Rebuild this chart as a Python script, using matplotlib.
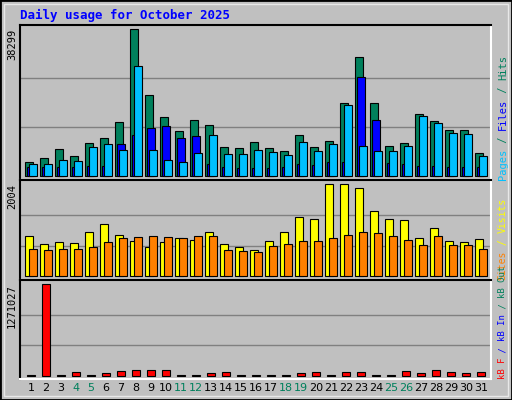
import matplotlib
matplotlib.use("Agg")
import matplotlib.pyplot as plt
from matplotlib.patches import Rectangle

days = list(range(1, 32))
weekend = [4, 5, 11, 12, 18, 19, 25, 26]

hits = [3650, 4690, 7030, 5210, 8600, 9900, 14070, 38299, 21100, 15370,
        11720, 14590, 13290, 7470, 7210, 8770, 7210, 6430, 10590, 7470,
        9030, 19020, 30920, 19020, 7730, 8510, 16240, 14240, 11900, 11900, 6000]
files = [2300, 2300, 2300, 2300, 2600, 2600, 8340, 10600, 12500, 13030,
         9900, 10420, 3000, 2300, 2000, 2000, 2000, 2300, 3100, 2900,
         3600, 3600, 25700, 14590, 3400, 3100, 2600, 2600, 2300, 2300, 2300]
pages = [3130, 3130, 4170, 3910, 7560, 8340, 6780, 28750, 6780, 4170,
         3650, 5990, 10680, 5730, 5730, 6780, 6250, 5470, 8860, 6510,
         8340, 18500, 7820, 6510, 6510, 7820, 15640, 13810, 11200, 10940, 5210]
visits = [874, 699, 743, 721, 955, 1129, 889, 779, 649, 743,
          831, 787, 955, 699, 634, 568, 765, 955, 1283, 1239,
          2004, 2004, 1924, 1414, 1239, 1217, 845, 1042, 765, 743, 809]
sites = [590, 568, 590, 590, 634, 743, 831, 852, 874, 852,
         831, 874, 874, 568, 546, 525, 656, 699, 765, 765,
         831, 896, 961, 940, 874, 787, 678, 874, 678, 678, 590]
kbytes = [10000, 1271027, 10000, 46000, 10000, 37000, 60000, 74000, 74000, 74000,
          10000, 10000, 37000, 46000, 10000, 10000, 10000, 10000, 37000, 46000,
          10000, 46000, 46000, 10000, 10000, 60000, 37000, 74000, 46000, 37000, 46000]

BG = "#c0c0c0"
fig = plt.figure(figsize=(5.12, 4.0), dpi=100, facecolor=BG)
fig.patches.append(Rectangle((0, 0), 1, 1, transform=fig.transFigure,
                             fill=False, edgecolor="black", linewidth=2))
fig.patches.append(Rectangle((4 / 512, 4 / 400), 504 / 512, 392 / 400,
                             transform=fig.transFigure, fill=False,
                             edgecolor="#e8e8e8", linewidth=1))

mono = "DejaVu Sans Mono"


def panel(top, bottom):
    ax = fig.add_axes([20 / 512, (400 - bottom) / 400, 471 / 512, (bottom - top) / 400])
    ax.set_facecolor(BG)
    ax.set_xlim(0, 471)
    ax.set_xticks([])
    ax.set_yticks([])
    for s in ax.spines.values():
        s.set_linewidth(1.5)
    ax.spines["bottom"].set_color("white")
    ax.spines["right"].set_color("white")
    return ax


def setup_y(ax, vmax, below, above, span):
    ax.set_ylim(-vmax * below / span, vmax * (1 + above / span))
    for f in (1 / 3, 2 / 3):
        ax.axhline(vmax * f, color="#808080", linewidth=1, zorder=0)
    ax.text(-0.006, vmax, str(vmax), transform=ax.get_yaxis_transform(),
            rotation=90, ha="right", va="top", fontsize=7.5, family=mono)


x0 = [5 + (d - 1) * 15 for d in days]
kw = dict(align="edge", edgecolor="black", linewidth=0.8)

ax1 = panel(25, 180)
setup_y(ax1, 38299, 4, 4, 147)
ax1.bar(x0, hits, width=7.5, color="#00805c", **kw)
ax1.bar([x + 2 for x in x0], files, width=7.5, color="#0000ff", **kw)
ax1.bar([x + 4 for x in x0], pages, width=7.5, color="#00c0ff", **kw)

ax2 = panel(180, 280)
setup_y(ax2, 2004, 3.7, 4.3, 92)
ax2.bar(x0, visits, width=7.5, color="#ffff00", **kw)
ax2.bar([x + 4 for x in x0], sites, width=7.5, color="#ff8000", **kw)

ax3 = panel(280, 379)
setup_y(ax3, 1271027, 3.3, 4.3, 91.4)
ax3.bar([x + 2 for x in x0], kbytes, width=7.5, color="#ff0000", **kw)

for d, x in zip(days, x0):
    fig.text((20 + x + 6) / 512, 1 - 388 / 400, str(d), ha="center", va="center",
             fontsize=8, family="DejaVu Sans",
             color="#00805c" if d in weekend else "black")


def side_label(ax, parts, fs):
    # parts from bottom to top
    y = 0.0
    fig.canvas.draw()
    for txt, col in parts:
        t = ax.text(1.025, y, txt, transform=ax.transAxes, rotation=90,
                    ha="center", va="bottom", fontsize=fs, family=mono, color=col)
        bb = t.get_window_extent().transformed(ax.transAxes.inverted())
        y += bb.height


side_label(ax1, [("Pages", "#00c0ff"), (" / ", "#00805c"), ("Files", "#0000ff"),
                 (" / ", "#00805c"), ("Hits", "#00805c")], 7.5)
side_label(ax2, [("Sites", "#ff8000"), (" / ", "#ffff00"), ("Visits", "#ffff00")], 7)
side_label(ax3, [("kB F", "#ff0000"), (" / ", "#0000ff"), ("kB In", "#0000ff"),
                 (" / ", "#00805c"), ("kB Out", "#00805c")], 6.5)

fig.text(20 / 512, 1 - 15 / 400, "Daily usage for October 2025", color="#0000ff",
         fontsize=9, fontweight="bold", family=mono, va="center")

fig.savefig("out.png", dpi=100, facecolor=BG)
